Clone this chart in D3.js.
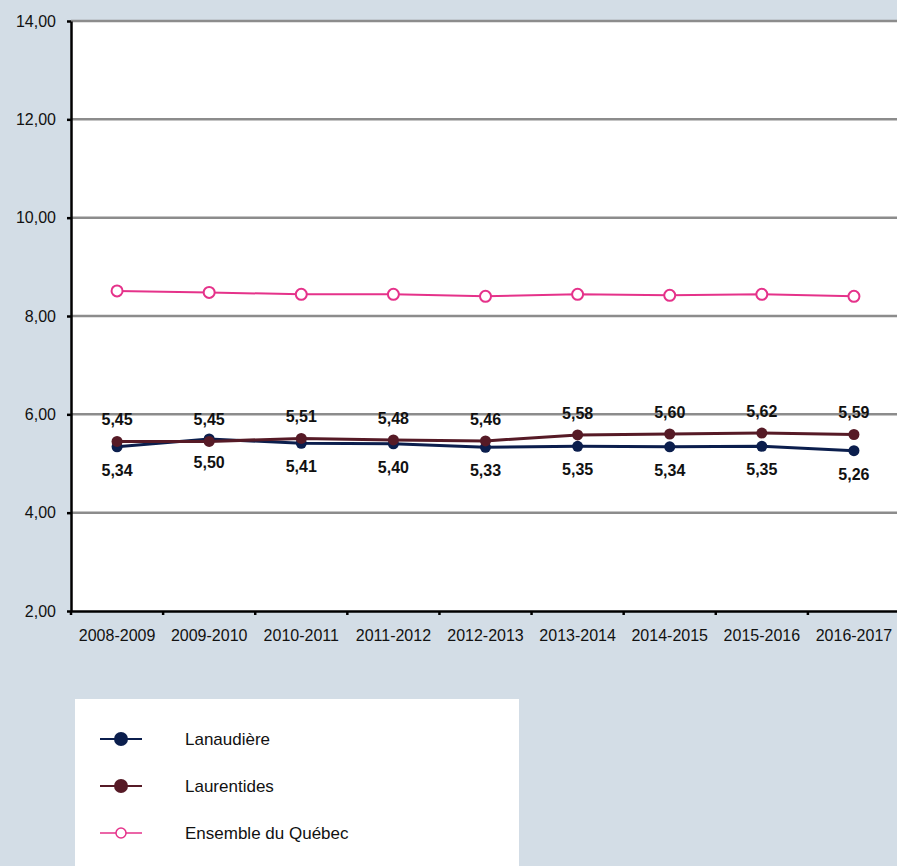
<!DOCTYPE html>
<html>
<head>
<meta charset="utf-8">
<script src="https://cdn.jsdelivr.net/npm/d3@7"></script>
<style>
body { margin: 0; background: #d3dde6; }
svg { display: block; }
</style>
</head>
<body>
<svg></svg>
<script>
var periodes = ["2008-2009", "2009-2010", "2010-2011", "2011-2012", "2012-2013", "2013-2014", "2014-2015", "2015-2016", "2016-2017"];
var lanaudiere = [5.34, 5.50, 5.41, 5.40, 5.33, 5.35, 5.34, 5.35, 5.26];
var laurentides = [5.45, 5.45, 5.51, 5.48, 5.46, 5.58, 5.60, 5.62, 5.59];
var quebec = [8.51, 8.48, 8.44, 8.44, 8.40, 8.44, 8.42, 8.44, 8.40];
var yTicks = [2, 4, 6, 8, 10, 12, 14];

width = 897;
height = 866;

margin = { top: 21, right: -3, bottom: 255, left: 71 };

var police = "Liberation Sans, Arial, sans-serif";

var series = [
    { nom: "Lanaudière", valeurs: lanaudiere, couleur: "#0b1e4d", plein: true, labelPos: "bas" },
    { nom: "Laurentides", valeurs: laurentides, couleur: "#561a26", plein: true, labelPos: "haut" },
    { nom: "Ensemble du Québec", valeurs: quebec, couleur: "#e5328a", plein: false, labelPos: null }
];

var fr = d3.formatLocale({ decimal: ",", thousands: " ", grouping: [3], currency: ["", " $"] });
var fmt = fr.format(".2f");

svg = d3.select("svg").attr("width", width).attr("height", height);

x = d3.scaleBand().domain(periodes).range([margin.left, width - margin.right]);
y = d3.scaleLinear().domain([2, 14]).range([height - margin.bottom, margin.top]);

// fond blanc du graphique
svg.append("rect")
    .attr("x", margin.left).attr("y", y(14))
    .attr("width", width - margin.right - margin.left)
    .attr("height", y(2) - y(14))
    .attr("fill", "#fff");

// grille
svg.append("g").selectAll("line").data(yTicks.filter(d => d > 2)).join("line")
    .attr("x1", margin.left).attr("x2", width)
    .attr("y1", d => y(d)).attr("y2", d => y(d))
    .attr("stroke", "#8c8c8c").attr("stroke-width", 2.5);

// axe Y
yAxis = g => g
    .attr("transform", `translate(${margin.left},0)`)
    .call(d3.axisLeft(y).tickValues(yTicks).tickFormat(fmt).tickSize(4).tickSizeOuter(0))
    .call(g => g.select(".domain").attr("stroke-width", 2.5))
    .call(g => g.selectAll(".tick line").attr("stroke-width", 2.5))
    .call(g => g.selectAll("text").attr("x", -15).attr("font-family", police).attr("font-size", 16).attr("fill", "#111"));

// axe X
xAxis = g => g
    .attr("transform", `translate(0,${y(2)})`)
    .call(d3.axisBottom(x).tickSize(0).tickSizeOuter(0))
    .call(g => g.select(".domain").attr("stroke-width", 2.5))
    .call(g => g.selectAll("text").attr("y", 19).attr("dy", "0.71em").attr("font-family", police).attr("font-size", 16).attr("fill", "#111"));

svg.append("g").call(xAxis);

// petites marques entre catégories
svg.append("g").selectAll("line").data(periodes).join("line")
    .attr("x1", d => x(d)).attr("x2", d => x(d))
    .attr("y1", y(2)).attr("y2", y(2) + 4)
    .attr("stroke", "#000").attr("stroke-width", 2.5);

svg.append("g").call(yAxis);

var cx = d => x(d) + x.bandwidth() / 2;
var line = d3.line().x((d, i) => cx(periodes[i])).y(d => y(d));

var ordre = [series[2], series[0], series[1]];
ordre.forEach(s => {
    var g = svg.append("g");
    g.append("path").datum(s.valeurs)
        .attr("d", line)
        .attr("fill", "none")
        .attr("stroke", s.couleur)
        .attr("stroke-width", s.plein ? 3 : 2);
    g.selectAll("circle").data(s.valeurs).join("circle")
        .attr("cx", (d, i) => cx(periodes[i]))
        .attr("cy", d => y(d))
        .attr("r", s.plein ? 5.5 : 5.5)
        .attr("fill", s.plein ? s.couleur : "#fff")
        .attr("stroke", s.couleur)
        .attr("stroke-width", s.plein ? 0 : 2);
});

// étiquettes
series.filter(s => s.labelPos).forEach(s => {
    svg.append("g").selectAll("text").data(s.valeurs).join("text")
        .attr("x", (d, i) => cx(periodes[i]))
        .attr("y", d => s.labelPos == "haut" ? y(d) - 16 : y(d) + 29)
        .attr("text-anchor", "middle")
        .attr("font-family", police)
        .attr("font-weight", "bold")
        .attr("font-size", 16)
        .attr("fill", "#111")
        .text(d => fmt(d));
});

// légende
var leg = svg.append("g").attr("transform", "translate(75,699)");
leg.append("rect").attr("width", 444).attr("height", 175).attr("fill", "#fff");
series.forEach((s, i) => {
    var gy = 40 + i * 47;
    var li = leg.append("g").attr("transform", `translate(0,${gy})`);
    li.append("line").attr("x1", 25).attr("x2", 67).attr("y1", 0).attr("y2", 0)
        .attr("stroke", s.couleur).attr("stroke-width", s.plein ? 2 : 1.5);
    li.append("circle").attr("cx", 46).attr("cy", 0).attr("r", s.plein ? 7 : 5)
        .attr("fill", s.plein ? s.couleur : "#fff")
        .attr("stroke", s.couleur).attr("stroke-width", s.plein ? 0 : 1.5);
    li.append("text").attr("x", 110).attr("y", 0).attr("dy", "0.35em")
        .attr("font-family", police)
        .attr("font-size", 17).attr("fill", "#111")
        .text(s.nom);
});
</script>
</body>
</html>
